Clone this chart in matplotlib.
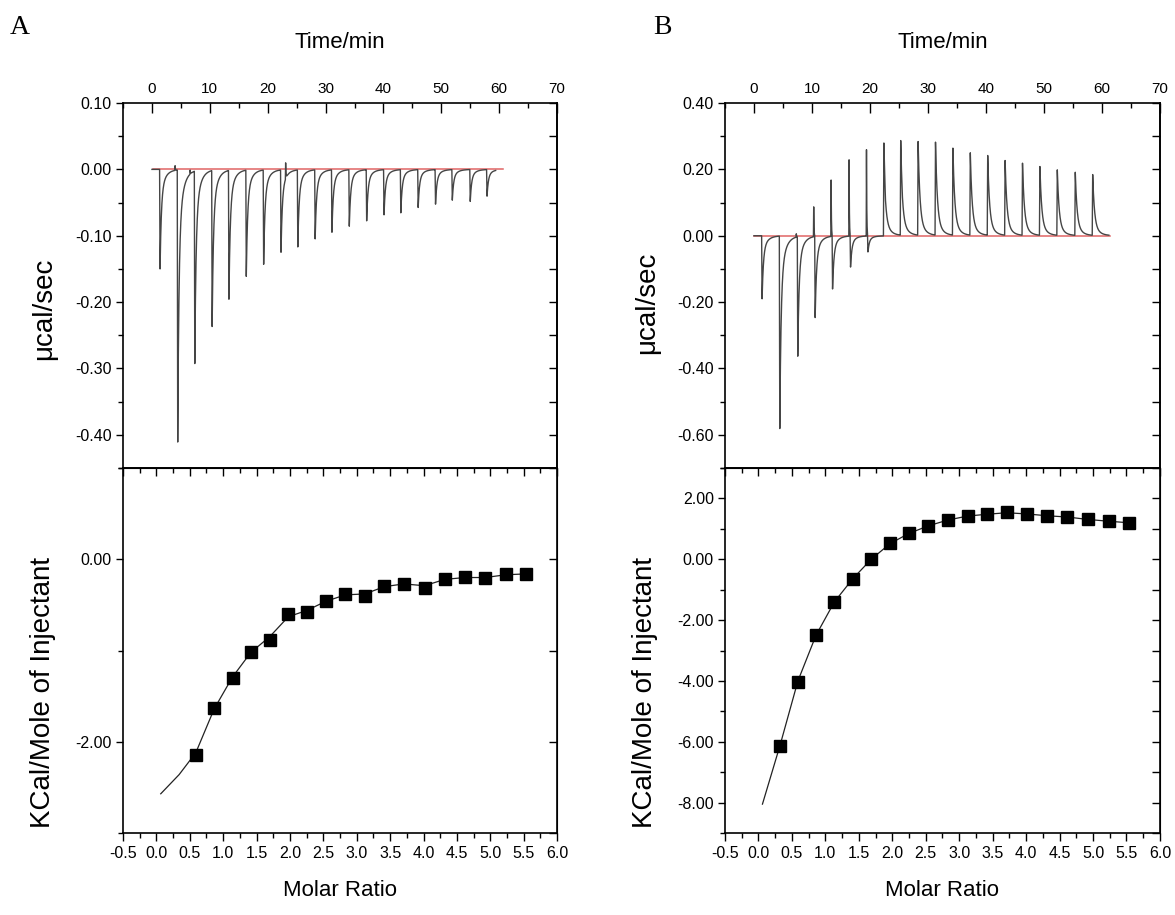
import numpy as np
import matplotlib.pyplot as plt
from matplotlib.ticker import MultipleLocator, FormatStrFormatter

plt.rcParams['font.family'] = ['Liberation Sans', 'DejaVu Sans']
plt.rcParams['axes.unicode_minus'] = False

# ---- panel A raw data (injection times in min, peak heights in ucal/sec)
a_inj_t = [1.4, 4.45, 7.4, 10.4, 13.3, 16.3, 19.3, 22.3, 25.2, 28.2,
           31.1, 34.1, 37.1, 40.1, 43.0, 46.0, 49.0, 51.9, 55.0, 57.9]
a_inj_h = [-0.150, -0.410, -0.290, -0.235, -0.194, -0.160, -0.142, -0.124, -0.116, -0.104,
           -0.094, -0.085, -0.077, -0.068, -0.065, -0.057, -0.052, -0.046, -0.048, -0.040]
a_spike_t = [4.0, 6.6, 23.1]
a_spike_h = [0.007, 0.006, 0.024]
a_trace_end = 59.4
a_base_t = [0.2, 60.7]

# ---- panel A integrated heats
a_ratio = [0.59, 0.865, 1.14, 1.415, 1.695, 1.975, 2.255, 2.54, 2.83, 3.12,
           3.415, 3.705, 4.015, 4.32, 4.625, 4.925, 5.23, 5.54]
a_heat = [-2.15, -1.63, -1.30, -1.02, -0.88, -0.60, -0.58, -0.46, -0.38, -0.40,
          -0.29, -0.27, -0.31, -0.22, -0.19, -0.21, -0.16, -0.16]
a_fit_x = [0.065, 0.34, 0.59, 0.865, 1.14, 1.415, 1.695, 1.975, 2.255, 2.54,
           2.83, 3.12, 3.415, 3.705, 4.015, 4.32, 4.625, 4.925, 5.23, 5.54]
a_fit_y = [-2.57, -2.36, -2.12, -1.64, -1.29, -1.02, -0.85, -0.63, -0.56, -0.46,
           -0.39, -0.38, -0.30, -0.27, -0.29, -0.22, -0.20, -0.20, -0.17, -0.16]

# ---- panel B raw data
b_inj_t = [1.15, 4.2, 7.3, 10.3, 13.3, 16.4, 19.4, 22.4, 25.3, 28.3,
           31.3, 34.3, 37.3, 40.3, 43.3, 46.3, 49.3, 52.3, 55.4, 58.4]
b_neg_h = [-0.19, -0.58, -0.36, -0.245, -0.16, -0.095, -0.05, -0.025, -0.012, 0.0,
           0.0, 0.0, 0.0, 0.0, 0.0, 0.0, 0.0, 0.0, 0.0, 0.0]
b_pos_h = [0.0, 0.0, 0.01, 0.09, 0.17, 0.23, 0.26, 0.28, 0.285, 0.282,
           0.28, 0.262, 0.248, 0.24, 0.225, 0.217, 0.207, 0.197, 0.19, 0.183]
b_trace_end = 61.2
b_base_t = [0.0, 61.4]

# ---- panel B integrated heats
b_ratio = [0.325, 0.59, 0.86, 1.135, 1.41, 1.685, 1.97, 2.25, 2.54, 2.83,
           3.125, 3.415, 3.71, 4.015, 4.315, 4.615, 4.92, 5.235, 5.54]
b_heat = [-6.15, -4.02, -2.50, -1.41, -0.64, 0.00, 0.52, 0.85, 1.10, 1.29,
          1.42, 1.48, 1.54, 1.48, 1.43, 1.40, 1.31, 1.25, 1.20]
b_fit_x = [0.06] + b_ratio
b_fit_y = [-8.05, -6.10, -4.00, -2.50, -1.40, -0.64, 0.00, 0.52, 0.85, 1.10, 1.29,
           1.42, 1.48, 1.53, 1.49, 1.43, 1.39, 1.31, 1.25, 1.20]

TRACE = '#454545'
BASE = '#e06464'


def peak(t, t0, h, fast=0.22, slow=0.8, w=0.75, rise=0.08):
    dt = t - t0
    y = np.zeros_like(t)
    after = dt >= 0
    y[after] = h * (w * np.exp(-dt[after] / fast) + (1 - w) * np.exp(-dt[after] / slow))
    before = (dt < 0) & (dt > -rise)
    y[before] = h * (1 + dt[before] / rise)
    return y


def trace_a():
    t = np.union1d(np.arange(0, a_trace_end, 0.01), a_inj_t + a_spike_t)
    y = np.zeros_like(t)
    for t0, h in zip(a_inj_t, a_inj_h):
        y += peak(t, t0, h)
    for t0, h in zip(a_spike_t, a_spike_h):
        y += peak(t, t0, h, fast=0.05, w=1.0, rise=0.05)
    return t, y


def trace_b():
    shifted = [t0 + 0.25 for t0 in b_inj_t]
    t = np.union1d(np.arange(0, b_trace_end, 0.01), b_inj_t + shifted)
    y = np.zeros_like(t)
    for t0, hn, hp in zip(b_inj_t, b_neg_h, b_pos_h):
        if hn < -0.03:
            y += peak(t, t0, hp, fast=0.05, w=1.0, rise=0.05)
            y += peak(t, t0 + 0.25, hn)
        else:
            y += peak(t, t0, hp, fast=0.3, slow=0.9, w=0.8)
            y += peak(t, t0 + 0.25, hn, fast=0.3, slow=0.9)
    return t, y


def style_top(ax, ylo, yhi, ymaj, ymin):
    ax.set_xlim(-5, 70)
    ax.set_ylim(ylo, yhi)
    ax.xaxis.set_major_locator(MultipleLocator(10))
    ax.xaxis.set_minor_locator(MultipleLocator(5))
    ax.xaxis.tick_top()
    ax.xaxis.set_label_position('top')
    ax.tick_params(axis='x', which='both', direction='in', top=True, bottom=False,
                   labeltop=True, labelbottom=False, labelsize=11, pad=5)
    ax.tick_params(axis='x', which='major', length=7, width=1)
    ax.tick_params(axis='x', which='minor', length=3.5, width=1)
    ax.yaxis.set_major_locator(MultipleLocator(ymaj))
    ax.yaxis.set_minor_locator(MultipleLocator(ymin))
    ax.yaxis.set_major_formatter(FormatStrFormatter('%.2f'))
    ax.tick_params(axis='y', which='both', direction='out', left=True, right=False,
                   labelsize=11.5, pad=3)
    ax.tick_params(axis='y', which='major', length=5, width=1)
    ax.tick_params(axis='y', which='minor', length=3.5, width=1)
    sec = ax.secondary_yaxis('right')
    sec.yaxis.set_major_locator(MultipleLocator(ymaj))
    sec.yaxis.set_minor_locator(MultipleLocator(ymin))
    sec.tick_params(axis='y', which='both', direction='in', length=6, width=1,
                    labelright=False)
    sec.spines['right'].set_linewidth(1.2)
    ax.set_xlabel('Time/min', fontsize=16)
    ax.xaxis.set_label_coords(0.5, 1.15)
    ax.set_ylabel('\u03bccal/sec', fontsize=20)


def style_bottom(ax, ylo, yhi):
    ax.set_xlim(-0.5, 6.0)
    ax.set_ylim(ylo, yhi)
    ax.xaxis.set_major_locator(MultipleLocator(0.5))
    ax.xaxis.set_minor_locator(MultipleLocator(0.25))
    ax.xaxis.set_major_formatter(FormatStrFormatter('%.1f'))
    ax.tick_params(axis='x', which='both', direction='out', labelsize=11.5, pad=3)
    ax.tick_params(axis='x', which='major', length=6, width=1)
    ax.tick_params(axis='x', which='minor', length=3.5, width=1)
    ax.yaxis.set_major_locator(MultipleLocator(2))
    ax.yaxis.set_minor_locator(MultipleLocator(1))
    ax.yaxis.set_major_formatter(FormatStrFormatter('%.2f'))
    ax.tick_params(axis='y', which='both', direction='out', labelsize=11.5, pad=3)
    ax.tick_params(axis='y', which='major', length=5, width=1)
    ax.tick_params(axis='y', which='minor', length=3.5, width=1)
    secx = ax.secondary_xaxis('top')
    secx.xaxis.set_major_locator(MultipleLocator(0.5))
    secx.xaxis.set_minor_locator(MultipleLocator(0.25))
    secx.tick_params(axis='x', which='major', direction='in', length=6, width=1, labeltop=False)
    secx.tick_params(axis='x', which='minor', direction='in', length=3.5, width=1, labeltop=False)
    secy = ax.secondary_yaxis('right')
    secy.yaxis.set_major_locator(MultipleLocator(2))
    secy.yaxis.set_minor_locator(MultipleLocator(1))
    secy.tick_params(axis='y', which='both', direction='in', length=6, width=1, labelright=False)
    ax.set_xlabel('Molar Ratio', fontsize=16)
    ax.xaxis.set_label_coords(0.5, -0.13)
    ax.set_ylabel('KCal/Mole of Injectant', fontsize=20)


fig = plt.figure(figsize=(11.75, 9.15), dpi=100)
ax_a1 = fig.add_axes([0.1047, 0.4885, 0.3694, 0.3989])
ax_a2 = fig.add_axes([0.1047, 0.0896, 0.3694, 0.3989])
ax_b1 = fig.add_axes([0.6170, 0.4885, 0.3702, 0.3989])
ax_b2 = fig.add_axes([0.6170, 0.0896, 0.3702, 0.3989])

for ax in (ax_a1, ax_a2, ax_b1, ax_b2):
    for s in ax.spines.values():
        s.set_linewidth(1.2)

# A raw
ta, ya = trace_a()
ax_a1.plot(a_base_t, [0, 0], color=BASE, lw=1.1)
ax_a1.plot(ta, ya, color=TRACE, lw=1.0)
style_top(ax_a1, -0.45, 0.10, 0.1, 0.05)
ax_a1.yaxis.set_label_coords(-0.152, 0.436)

# A heats
ax_a2.plot(a_fit_x, a_fit_y, color='#222222', lw=0.9)
ax_a2.plot(a_ratio, a_heat, 's', color='black', ms=8.5, ls='none')
style_bottom(ax_a2, -3, 1)
ax_a2.yaxis.set_label_coords(-0.154, 0.386)

# B raw
tb, yb = trace_b()
ax_b1.plot(b_base_t, [0, 0], color=BASE, lw=1.1)
ax_b1.plot(tb, yb, color=TRACE, lw=1.0)
style_top(ax_b1, -0.70, 0.40, 0.2, 0.1)
ax_b1.yaxis.set_label_coords(-0.149, 0.452)

# B heats
ax_b2.plot(b_fit_x, b_fit_y, color='#222222', lw=0.9)
ax_b2.plot(b_ratio, b_heat, 's', color='black', ms=8.5, ls='none')
style_bottom(ax_b2, -9, 3)
ax_b2.yaxis.set_label_coords(-0.154, 0.386)

fig.text(20 / 1175, 1 - 27 / 915, 'A', family='Liberation Serif', fontsize=20,
         ha='center', va='center')
fig.text(662 / 1175, 1 - 27 / 915, 'B', family='Liberation Serif', fontsize=20,
         ha='center', va='center')

fig.savefig('out.png', dpi=100)
